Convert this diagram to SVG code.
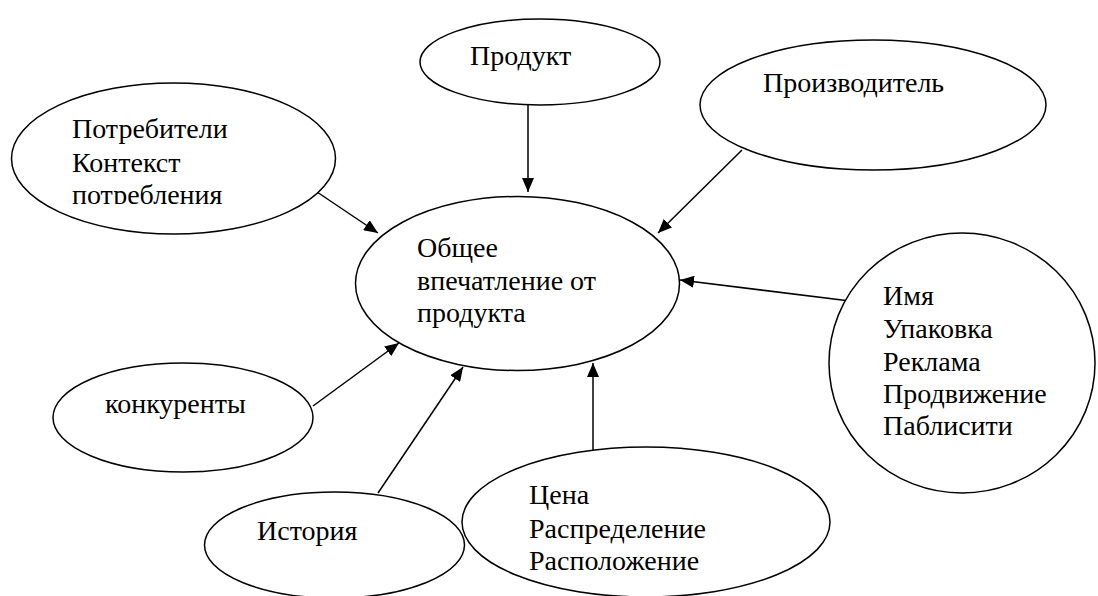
<svg xmlns="http://www.w3.org/2000/svg" width="1098" height="596" viewBox="0 0 1098 596">
<style>
.node ellipse{fill:#fff;stroke:#000;stroke-width:1.5}
.node text{font-family:"Liberation Serif","Times New Roman",serif;font-size:28px;fill:#000}
.conn line{stroke:#000;stroke-width:1.5}
</style>
<defs>
<marker id="arr" viewBox="0 0 14 12" refX="14" refY="6" markerWidth="14" markerHeight="12" markerUnits="userSpaceOnUse" orient="auto">
<path d="M0,0 L14,6 L0,12 z" fill="#000"/>
</marker>
<clipPath id="clipPotreb"><rect x="0" y="80" width="340" height="124"/></clipPath>
</defs>
<rect width="1098" height="596" fill="#fff"/>
<g id="connectors" class="conn">
<line x1="528" y1="105" x2="528" y2="192" marker-end="url(#arr)"/>
<line x1="317" y1="192" x2="378" y2="233" marker-end="url(#arr)"/>
<line x1="742" y1="150" x2="658" y2="233" marker-end="url(#arr)"/>
<line x1="850" y1="301" x2="680" y2="280" marker-end="url(#arr)"/>
<line x1="313" y1="406" x2="399" y2="343" marker-end="url(#arr)"/>
<line x1="378" y1="493" x2="463" y2="367" marker-end="url(#arr)"/>
<line x1="593" y1="450" x2="593" y2="363" marker-end="url(#arr)"/>
</g>
<g id="node-produkt" class="node">
<ellipse cx="540" cy="62" rx="120" ry="43"/>
<text x="470" y="65">Продукт</text>
</g>
<g id="node-proizvoditel" class="node">
<ellipse cx="873" cy="105" rx="173" ry="65"/>
<text x="763" y="92">Производитель</text>
</g>
<g id="node-potrebiteli" class="node">
<ellipse cx="173.5" cy="158.5" rx="162" ry="75.5"/>
<g clip-path="url(#clipPotreb)">
<text x="72" y="138">Потребители</text>
<text x="72" y="172">Контекст</text>
<text x="72" y="204">потребления</text>
</g>
</g>
<g id="node-center" class="node">
<ellipse cx="517.5" cy="283.5" rx="162" ry="87"/>
<text x="417" y="257">Общее</text>
<text x="417" y="290">впечатление от</text>
<text x="417" y="322">продукта</text>
</g>
<g id="node-imya" class="node">
<ellipse cx="962" cy="363" rx="133" ry="130"/>
<text x="883" y="305">Имя</text>
<text x="883" y="338">Упаковка</text>
<text x="883" y="371">Реклама</text>
<text x="883" y="403">Продвижение</text>
<text x="883" y="435">Паблисити</text>
</g>
<g id="node-konkurenty" class="node">
<ellipse cx="183" cy="417.5" rx="130" ry="54.5"/>
<text x="105" y="413">конкуренты</text>
</g>
<g id="node-istoriya" class="node">
<ellipse cx="334.5" cy="545" rx="130" ry="53"/>
<text x="257" y="540">История</text>
</g>
<g id="node-tsena" class="node">
<ellipse cx="646" cy="522" rx="184" ry="75"/>
<text x="529" y="504">Цена</text>
<text x="529" y="538">Распределение</text>
<text x="529" y="570">Расположение</text>
</g>
</svg>
